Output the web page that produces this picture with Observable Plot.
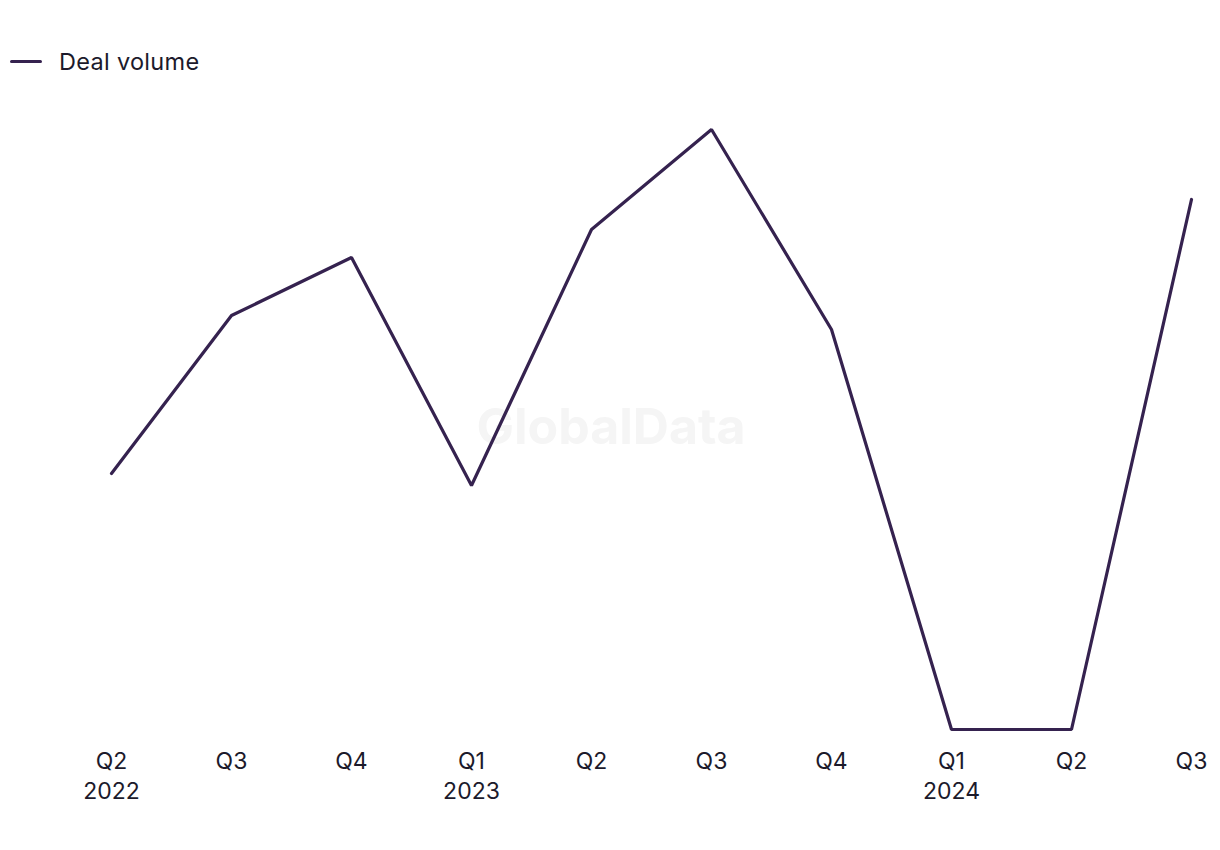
<!DOCTYPE html>
<html>
<head>
<meta charset="utf-8">
<script src="https://cdn.jsdelivr.net/npm/d3@7"></script>
<script src="https://cdn.jsdelivr.net/npm/@observablehq/plot@0.6"></script>
<style>
  html, body { margin: 0; padding: 0; background: #fff; }
  body { width: 1220px; height: 850px; font-family: Inter, "Liberation Sans", sans-serif; color: #1c1a2b; }
  #legend { height: 100px; position: relative; }
  #legend .item { position: absolute; left: 10px; top: 47px; display: flex; align-items: center; font-size: 23.5px; letter-spacing: 0.3px; }
  #legend .sw { width: 32px; height: 3.5px; background: #35224f; border-radius: 2px; margin-right: 17px; }
</style>
</head>
<body>
<div id="legend"><div class="item"><span class="sw"></span><span>Deal volume</span></div></div>
<div id="chart"></div>
<script>
const quarters = ["Q2", "Q3", "Q4", "Q1", "Q2", "Q3", "Q4", "Q1", "Q2", "Q3"];
const years = ["2022", "2022", "2022", "2023", "2023", "2023", "2023", "2024", "2024", "2024"];
const dealVolume = [12.8, 20.7, 23.6, 12.2, 25.0, 30.0, 20.0, 0, 0, 26.5];

const keys = quarters.map((q, i) => `${q} ${years[i]}`);
const data = keys.map((k, i) => ({key: k, value: dealVolume[i]}));
const tickLabel = k => {
  const [q, y] = k.split(" ");
  return q === "Q1" || k === keys[0] ? `${q}\n${y}` : q;
};

const chart = Plot.plot({
  width: 1220,
  height: 750,
  marginTop: 29,
  marginBottom: 121,
  marginLeft: 108.5,
  marginRight: 27.5,
  style: {fontFamily: "Inter, 'Liberation Sans', sans-serif", color: "#1c1a2b", background: "#fff"},
  x: {type: "point", domain: keys, padding: 0},
  y: {domain: [0, 30], axis: null},
  marks: [
    Plot.text(["GlobalData"], {frameAnchor: "middle", dx: -40, dy: -2, fontSize: 50, fontWeight: "bold", fill: "#f5f5f5"}),
    Plot.axisX({tickSize: 0, tickPadding: 18, fontSize: 23, lineHeight: 1.3, tickFormat: tickLabel, label: null, fill: "#1c1a2b", style: {letterSpacing: "0.5px"}}),
    Plot.line(data, {x: "key", y: "value", stroke: "#35224f", strokeWidth: 3.2, strokeLinejoin: "miter"})
  ]
});
document.getElementById("chart").appendChild(chart);
</script>
</body>
</html>
